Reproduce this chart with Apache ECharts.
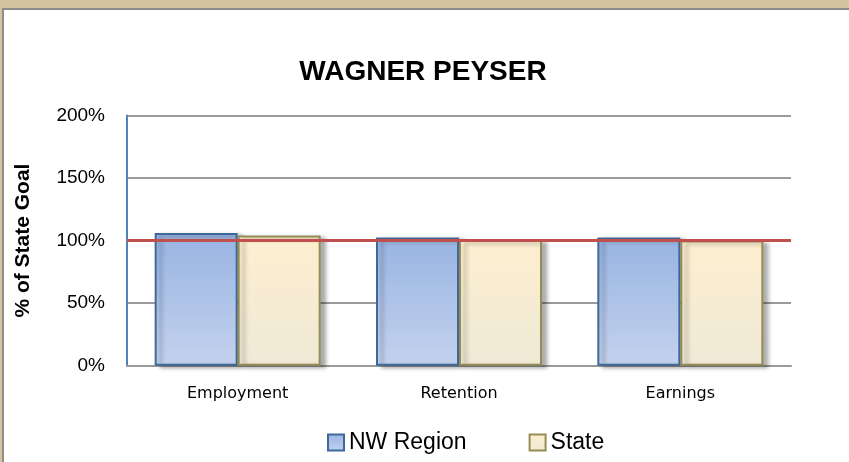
<!DOCTYPE html>
<html>
<head>
<meta charset="utf-8">
<script src="https://cdn.jsdelivr.net/npm/echarts@6/dist/echarts.min.js"></script>
<style>
  html, body { margin: 0; padding: 0; background: #ffffff; }
  #chart { width: 849px; height: 462px; }
</style>
</head>
<body>
<div id="chart"></div>
<script>
// kategoriler ve degerler (% of state goal)
const kategoriler = ["Employment", "Retention", "Earnings"];
const nwBolge = [106, 102.5, 102.5];
const eyalet = [104, 100.5, 100];
const hedef = 100;
const yEtiketleri = [0, 50, 100, 150, 200];

let myChart = echarts.init(document.getElementById("chart"));

let option = {
  backgroundColor: "#ffffff",
  animation: false,
  title: {
    text: "WAGNER PEYSER",
    left: 418,
    textAlign: "center",
    top: 53,
    textStyle: {
      fontFamily: "Liberation Sans",
      fontSize: 28,
      fontWeight: "bold",
      color: "#000000"
    }
  },
  graphic: [
    // cerceve: ust ve sol kenar
    { type: "rect", shape: { x: 0, y: 0, width: 849, height: 8 }, style: { fill: "#d3c59f" }, silent: true },
    { type: "rect", shape: { x: 0, y: 0, width: 2, height: 462 }, style: { fill: "#d3c59f" }, silent: true },
    { type: "rect", shape: { x: 2, y: 8, width: 847, height: 2 }, style: { fill: "#8c8c8c" }, silent: true },
    { type: "rect", shape: { x: 2, y: 8, width: 2, height: 454 }, style: { fill: "#8c8c8c" }, silent: true }
  ],
  legend: {
    left: 322,
    top: 426,
    itemWidth: 16,
    itemHeight: 16,
    itemGap: 62,
    icon: "rect",
    textStyle: {
      fontFamily: "Liberation Sans",
      fontSize: 23,
      color: "#000000"
    },
    data: ["NW Region", "State"]
  },
  grid: {
    left: 127,
    right: 58,
    top: 115.5,
    bottom: 96.3
  },
  xAxis: {
    type: "category",
    data: kategoriler,
    axisLine: { show: true, lineStyle: { color: "#9a9a9a", width: 2 } },
    axisTick: { show: false },
    axisLabel: {
      margin: 20,
      fontFamily: "DejaVu Sans",
      fontSize: 16,
      color: "#000000"
    }
  },
  yAxis: {
    type: "value",
    min: 0,
    max: 200,
    interval: 50,
    name: "% of State Goal",
    nameLocation: "middle",
    nameGap: 93,
    nameTextStyle: {
      fontFamily: "Liberation Sans",
      fontSize: 21,
      fontWeight: "bold",
      color: "#000000"
    },
    axisLine: { show: true, lineStyle: { color: "#4f81bd", width: 2 } },
    axisTick: { show: false },
    axisLabel: {
      margin: 22,
      fontFamily: "Liberation Sans",
      fontSize: 19,
      color: "#000000",
      formatter: function (v) {
        return yEtiketleri.indexOf(v) >= 0 ? v + "%" : "";
      }
    },
    splitLine: { show: true, lineStyle: { color: "#9a9a9a", width: 2 } }
  },
  series: [
    {
      name: "NW Region",
      type: "bar",
      data: nwBolge,
      barGap: "0%",
      barCategoryGap: "25%",
      itemStyle: {
        color: new echarts.graphic.LinearGradient(0, 0, 0, 1, [
          { offset: 0, color: "#98b4e2" },
          { offset: 1, color: "#c4d2ee" }
        ]),
        borderColor: "#3e6899",
        borderWidth: 2,
        shadowColor: "rgba(0,0,0,0.3)",
        shadowBlur: 4,
        shadowOffsetX: 5,
        shadowOffsetY: 2
      },
      markLine: {
        silent: true,
        symbol: "none",
        label: { show: false },
        lineStyle: { color: "#c0504d", width: 3, type: "solid" },
        data: [{ yAxis: hedef }]
      }
    },
    {
      name: "State",
      type: "bar",
      data: eyalet,
      itemStyle: {
        color: new echarts.graphic.LinearGradient(0, 0, 0, 1, [
          { offset: 0, color: "#fdeecf" },
          { offset: 1, color: "#efe9d6" }
        ]),
        borderColor: "#958b55",
        borderWidth: 2,
        shadowColor: "rgba(0,0,0,0.3)",
        shadowBlur: 4,
        shadowOffsetX: 5,
        shadowOffsetY: 2
      }
    }
  ]
};

myChart.setOption(option);
</script>
</body>
</html>
